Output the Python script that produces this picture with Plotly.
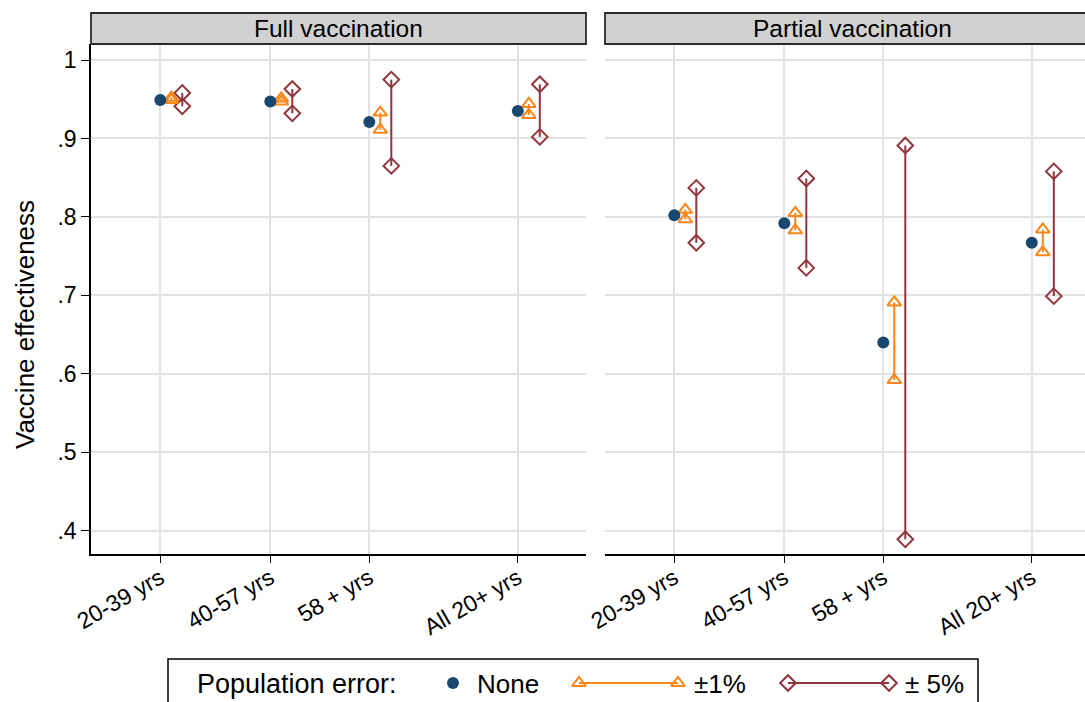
import plotly.graph_objects as go

# ---------------- data ----------------
groups = ["20-39 yrs", "40-57 yrs", "58 + yrs", "All 20+ yrs"]
xpos = [1, 2, 2.9, 4.25]
panels = ["Full vaccination", "Partial vaccination"]

full_none = [0.949, 0.947, 0.921, 0.935]
full_p1_lo = [0.949, 0.947, 0.911, 0.930]
full_p1_hi = [0.952, 0.951, 0.933, 0.944]
full_p5_lo = [0.941, 0.932, 0.865, 0.902]
full_p5_hi = [0.958, 0.963, 0.975, 0.969]

partial_none = [0.802, 0.792, 0.640, 0.767]
partial_p1_lo = [0.797, 0.783, 0.592, 0.755]
partial_p1_hi = [0.809, 0.805, 0.691, 0.784]
partial_p5_lo = [0.767, 0.735, 0.389, 0.699]
partial_p5_hi = [0.837, 0.849, 0.891, 0.858]

yticks = [0.4, 0.5, 0.6, 0.7, 0.8, 0.9, 1.0]
ytick_labels = [".4", ".5", ".6", ".7", ".8", ".9", "1"]

legend_title = "Population error:"
series_names = ["None", "±1%", "± 5%"]

# ---------------- style ----------------
W, H = 1085, 702
NAVY = "#1a476f"
ORANGE = "#fb8516"
MAROON = "#90353b"
GRID = "#e2e2e2"
FONT = "Liberation Sans, Arial, Helvetica, sans-serif"
OFF = 0.1
TRI = 12
DIA = 12


def px(x):
    return x / W


def py(y):
    return 1 - y / H


fig = go.Figure()

panel_data = [
    (full_none, full_p1_lo, full_p1_hi, full_p5_lo, full_p5_hi, "x", "y"),
    (partial_none, partial_p1_lo, partial_p1_hi, partial_p5_lo, partial_p5_hi, "x2", "y2"),
]


def whisker(xs, lo, hi):
    X, Y = [], []
    for a, l, h in zip(xs, lo, hi):
        X += [a, a, None]
        Y += [l, h, None]
    return X, Y


for none, p1lo, p1hi, p5lo, p5hi, xa, ya in panel_data:
    x1 = [v + OFF for v in xpos]
    x5 = [v + 2 * OFF for v in xpos]
    X5, Y5 = whisker(x5, p5lo, p5hi)
    fig.add_trace(go.Scatter(
        x=X5, y=Y5, mode="lines+markers", xaxis=xa, yaxis=ya, showlegend=False,
        line=dict(color=MAROON, width=2),
        marker=dict(symbol="diamond-open", size=DIA, color=MAROON, line=dict(width=2)),
    ))
    X1, Y1 = whisker(x1, p1lo, p1hi)
    fig.add_trace(go.Scatter(
        x=X1, y=Y1, mode="lines+markers", xaxis=xa, yaxis=ya, showlegend=False,
        line=dict(color=ORANGE, width=2),
        marker=dict(symbol="triangle-up-open", size=TRI, color=ORANGE, line=dict(width=2)),
    ))
    fig.add_trace(go.Scatter(
        x=xpos, y=none, mode="markers", xaxis=xa, yaxis=ya, showlegend=False,
        marker=dict(symbol="circle", size=12, color=NAVY),
    ))

# ---------------- axes ----------------
PX_PER_UNIT = 110.0
x_left0 = 0.37
left_px = (91, 586)
right_px = (605, 1085)
top_px, bot_px = 44, 554
y_lo, y_hi = 0.3703, 1.0204

xcommon = dict(
    tickmode="array", tickvals=xpos, ticktext=groups, tickangle=-30,
    showgrid=True, gridcolor=GRID, gridwidth=2, zeroline=False,
    showline=True, linecolor="black", linewidth=1.5,
    ticks="outside", ticklen=7, tickcolor="black", tickwidth=1.2,
    tickfont=dict(family=FONT, size=23, color="black"), automargin=False,
    ticklabelstandoff=-7,
)
fig.update_layout(
    xaxis=dict(domain=[px(left_px[0]), px(left_px[1])],
               range=[x_left0, x_left0 + (left_px[1] - left_px[0]) / PX_PER_UNIT],
               anchor="y", **xcommon),
    xaxis2=dict(domain=[px(right_px[0]), px(right_px[1])],
                range=[x_left0, x_left0 + (right_px[1] - right_px[0]) / PX_PER_UNIT],
                anchor="y2", **xcommon),
    yaxis=dict(domain=[py(bot_px), py(top_px)], range=[y_lo, y_hi], anchor="x",
               tickmode="array", tickvals=yticks, ticktext=ytick_labels,
               showgrid=True, gridcolor=GRID, gridwidth=2, zeroline=False,
               showline=True, linecolor="black", linewidth=1.5,
               ticks="outside", ticklen=8, tickcolor="black", tickwidth=1.2,
               tickfont=dict(family=FONT, size=23, color="black"), automargin=False),
    yaxis2=dict(domain=[py(bot_px), py(top_px)], range=[y_lo, y_hi], anchor="x2",
                tickmode="array", tickvals=yticks, showticklabels=False,
                showgrid=True, gridcolor=GRID, gridwidth=2, zeroline=False,
                showline=False, ticks="", automargin=False),
    xaxis3=dict(domain=[0, 1], range=[0, W], visible=False, anchor="y3",
                fixedrange=True, automargin=False),
    yaxis3=dict(domain=[0, 1], range=[H, 0], visible=False, anchor="x3",
                fixedrange=True, automargin=False),
)

shapes = []
annotations = []

# panel header strips
strip_top = 13
for (x0p, x1p), title in zip([left_px, (605, 1100)], panels):
    shapes.append(dict(type="rect", xref="paper", yref="paper",
                       x0=px(x0p), x1=px(x1p), y0=py(top_px), y1=py(strip_top),
                       fillcolor="#d1d1d1", line=dict(color="#2a2a2a", width=1.8),
                       layer="above"))
    annotations.append(dict(text=title, xref="paper", yref="paper",
                            x=px((x0p + x1p) / 2), y=py((strip_top + top_px) / 2),
                            xanchor="center", yanchor="middle", showarrow=False,
                            font=dict(family=FONT, size=24.5, color="black")))

# y title
annotations.append(dict(text="Vaccine effectiveness", xref="paper", yref="paper",
                        x=px(25), y=py(325), textangle=-90, showarrow=False,
                        xanchor="center", yanchor="middle",
                        font=dict(family=FONT, size=26, color="black")))

# legend box
shapes.append(dict(type="rect", xref="paper", yref="paper",
                   x0=px(168), x1=px(978), y0=py(730), y1=py(659),
                   fillcolor="rgba(0,0,0,0)", line=dict(color="black", width=1.5),
                   layer="below"))
leg_y = 684
annotations.append(dict(text=legend_title, xref="paper", yref="paper",
                        x=px(195), y=py(leg_y), xanchor="left", yanchor="middle",
                        showarrow=False, font=dict(family=FONT, size=27, color="black")))
# legend symbols
fig.add_trace(go.Scatter(x=[453], y=[683], xaxis="x3", yaxis="y3", mode="markers",
                         showlegend=False, hoverinfo="skip",
                         marker=dict(symbol="circle", size=12, color=NAVY)))
fig.add_trace(go.Scatter(x=[579, 678], y=[683, 683], xaxis="x3", yaxis="y3",
                         mode="lines+markers", showlegend=False, hoverinfo="skip",
                         line=dict(color=ORANGE, width=2),
                         marker=dict(symbol="triangle-up-open", size=TRI, color=ORANGE,
                                     line=dict(width=2))))
fig.add_trace(go.Scatter(x=[788, 889], y=[683, 683], xaxis="x3", yaxis="y3",
                         mode="lines+markers", showlegend=False, hoverinfo="skip",
                         line=dict(color=MAROON, width=2),
                         marker=dict(symbol="diamond-open", size=DIA, color=MAROON,
                                     line=dict(width=2))))
for xt, name in zip([475, 692, 903], series_names):
    annotations.append(dict(text=name, xref="paper", yref="paper",
                            x=px(xt), y=py(leg_y), xanchor="left", yanchor="middle",
                            showarrow=False, font=dict(family=FONT, size=26, color="black")))

fig.update_layout(
    width=W, height=H, margin=dict(l=0, r=0, t=0, b=0, pad=0),
    paper_bgcolor="white", plot_bgcolor="rgba(0,0,0,0)",
    shapes=shapes, annotations=annotations, showlegend=False,
    font=dict(family=FONT, color="black"),
)

fig.write_html("out.html", include_plotlyjs=True,
               config={"displayModeBar": False},
               post_script="document.body.style.margin='0';document.body.style.overflow='hidden';")
